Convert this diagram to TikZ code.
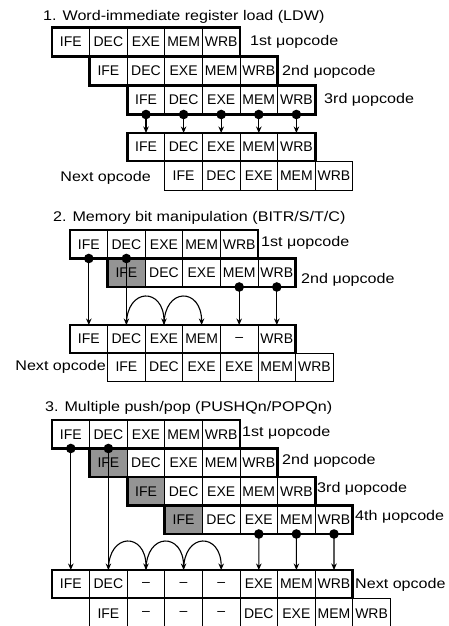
\documentclass[tikz,border=0pt]{standalone}
\usepackage{fontspec}
\setmainfont{Liberation Sans}
\newfontfamily\labfont{Liberation Sans}[FakeStretch=1.15]
\usetikzlibrary{arrows.meta}
\pgfdeclarelayer{bg}
\pgfsetlayers{bg,main}
\newcommand{\cellrow}[5]{%
  \foreach \t [count=\i] in {#5} {
    \node[cell, minimum height=#4pt, anchor=north west] (#1-\i) at ({#2+(\i-1)*37.6}, #3) {\t};
  }%
}
\begin{document}
\begin{tikzpicture}[x=1pt,y=-1pt,
  cell/.style={draw, line width=1pt, inner sep=0pt, outer sep=0pt, minimum width=37.6pt,
    font=\fontsize{14}{16}\selectfont},
  thickbox/.style={line width=2.8pt},
  lab/.style={inner sep=0pt, anchor=west, font=\labfont\fontsize{14}{16}\selectfont},
  ttl/.style={inner sep=0pt, anchor=west, font=\labfont\fontsize{14}{16}\selectfont},
  arr/.style={line width=1.1pt, -{Stealth[length=6.5pt,width=5.5pt]}},
  shadecell/.style={fill=black!42},
  dotr/.style={fill=black}]
\useasboundingbox (0,0) rectangle (449,626);
\clip (0,0) rectangle (449,626);

% ---------- Section 1 ----------
\node[ttl] (t1) at (43,17) {1. Word-immediate register load (LDW)};
\cellrow{a1}{52}{27.5}{29}{IFE,DEC,EXE,MEM,WRB}
\cellrow{a2}{89.6}{56.5}{29}{IFE,DEC,EXE,MEM,WRB}
\cellrow{a3}{127.2}{85.5}{29}{IFE,DEC,EXE,MEM,WRB}
\cellrow{a4}{127.2}{133}{28}{IFE,DEC,EXE,MEM,WRB}
\cellrow{a5}{164.8}{161}{29}{IFE,DEC,EXE,MEM,WRB}
\foreach \r in {a1,a2,a3,a4}
  \draw[thickbox] (\r-1.north west) rectangle (\r-5.south east);
\node[lab] (la1) at (250,42) {1st μopcode};
\node[lab] (la2) at (282,71.5) {2nd μopcode};
\node[lab] (la3) at (324,100) {3rd μopcode};
\node[lab, anchor=east] (la5) at (151,178) {Next opcode};
\foreach \i in {1,...,5} {
  \fill[dotr] (a3-\i.south) circle (4.8pt);
  \draw[arr] (a3-\i.south) -- (a4-\i.north);
}

% ---------- Section 2 ----------
\node[ttl] (t2) at (53,218) {2. Memory bit manipulation (BITR/S/T/C)};
\cellrow{b1}{70}{230}{28.5}{IFE,DEC,EXE,MEM,WRB}
\cellrow{b2}{107.6}{258.5}{28.5}{IFE,DEC,EXE,MEM,WRB}
\cellrow{b3}{70}{325}{28}{IFE,DEC,EXE,MEM,–,WRB}
\cellrow{b4}{107.6}{353}{28}{IFE,DEC,EXE,EXE,MEM,WRB}
\begin{pgfonlayer}{bg}
  \fill[shadecell] (b2-1.north west) rectangle (b2-1.south east);
\end{pgfonlayer}
\draw[thickbox] (b1-1.north west) rectangle (b1-5.south east);
\draw[thickbox] (b2-1.north west) rectangle (b2-5.south east);
\draw[thickbox] (b3-1.north west) rectangle (b3-6.south east);
\node[lab] (lb1) at (261,243) {1st μopcode};
\node[lab] (lb2) at (301,280) {2nd μopcode};
\node[lab, anchor=east] (lb4) at (106,367) {Next opcode};
\fill[dotr] (b1-1.south) circle (4.8pt);
\fill[dotr] (b1-2.south) circle (4.8pt);
\fill[dotr] (b2-4.south) circle (4.8pt);
\fill[dotr] (b2-5.south) circle (4.8pt);
\draw[arr] (b1-1.south) -- (b3-1.north);
\draw[arr] (b1-2.south) -- (b3-2.north);
\draw[arr] (b2-4.south) -- (b3-5.north);
\draw[arr] (b2-5.south) -- (b3-6.north);
\draw[arr] (b3-2.north) .. controls +(0,-38) and +(0,-38) .. (b3-3.north);
\draw[arr] (b3-3.north) .. controls +(0,-38) and +(0,-38) .. (b3-4.north);

% ---------- Section 3 ----------
\node[ttl] (t3) at (45,408) {3. Multiple push/pop (PUSHQn/POPQn)};
\cellrow{c1}{52}{420}{28.5}{IFE,DEC,EXE,MEM,WRB}
\cellrow{c2}{89.6}{448.5}{28.5}{IFE,DEC,EXE,MEM,WRB}
\cellrow{c3}{127.2}{477}{28.5}{IFE,DEC,EXE,MEM,WRB}
\cellrow{c4}{164.8}{505.5}{28.5}{IFE,DEC,EXE,MEM,WRB}
\cellrow{c5}{52}{570}{28}{IFE,DEC,–,–,–,EXE,MEM,WRB}
\cellrow{c6}{89.6}{598}{31}{IFE,–,–,–,DEC,EXE,MEM,WRB}
\begin{pgfonlayer}{bg}
  \foreach \r in {c2,c3,c4}
    \fill[shadecell] (\r-1.north west) rectangle (\r-1.south east);
\end{pgfonlayer}
\foreach \r in {c1,c2,c3,c4}
  \draw[thickbox] (\r-1.north west) rectangle (\r-5.south east);
\draw[thickbox] (c5-1.north west) rectangle (c5-8.south east);
\node[lab] (lc1) at (242,433) {1st μopcode};
\node[lab] (lc2) at (282,461) {2nd μopcode};
\node[lab] (lc3) at (317,489) {3rd μopcode};
\node[lab] (lc4) at (355,517) {4th μopcode};
\node[lab] (lc5) at (355,585) {Next opcode};
\fill[dotr] (c1-1.south) circle (4.8pt);
\fill[dotr] (c1-2.south) circle (4.8pt);
\draw[arr] (c1-1.south) -- (c5-1.north);
\draw[arr] (c1-2.south) -- (c5-2.north);
\foreach \i/\j in {3/6,4/7,5/8} {
  \fill[dotr] (c4-\i.south) circle (4.8pt);
  \draw[arr] (c4-\i.south) -- (c5-\j.north);
}
\draw[arr] (c5-2.north) .. controls +(0,-38) and +(0,-38) .. (c5-3.north);
\draw[arr] (c5-3.north) .. controls +(0,-38) and +(0,-38) .. (c5-4.north);
\draw[arr] (c5-4.north) .. controls +(0,-38) and +(0,-38) .. (c5-5.north);
\end{tikzpicture}
\end{document}
